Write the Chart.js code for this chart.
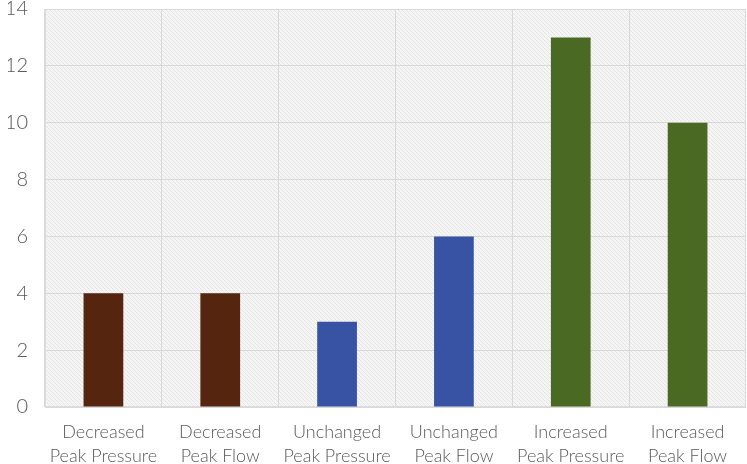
<!DOCTYPE html>
<html>
<head>
<meta charset="utf-8">
<script src="https://cdn.jsdelivr.net/npm/chart.js@4/dist/chart.umd.min.js"></script>
<style>
  html, body { margin: 0; padding: 0; background: #fff; }
  #wrap { width: 747px; height: 464px; }
</style>
</head>
<body>
<div id="wrap"><canvas id="chart"></canvas></div>
<script>
const categories = [
  ['Decreased', 'Peak Pressure'],
  ['Decreased', 'Peak Flow'],
  ['Unchanged', 'Peak Pressure'],
  ['Unchanged', 'Peak Flow'],
  ['Increased', 'Peak Pressure'],
  ['Increased', 'Peak Flow']
];
const counts = [4, 4, 3, 6, 13, 10];
const barColors = ['#56250f', '#56250f', '#3953a4', '#3953a4', '#4a6a23', '#4a6a23'];
const yTicks = [0, 2, 4, 6, 8, 10, 12, 14];

// hatched background for the plot area
function makeHatch(ctx) {
  const c = document.createElement('canvas');
  c.width = 4; c.height = 4;
  const p = c.getContext('2d');
  p.fillStyle = '#f5f5f5';
  p.fillRect(0, 0, 4, 4);
  p.strokeStyle = '#e4e4e4';
  p.lineWidth = 1;
  p.beginPath();
  p.moveTo(0, 0); p.lineTo(4, 4);
  p.moveTo(-1, 3); p.lineTo(1, 5);
  p.moveTo(3, -1); p.lineTo(5, 1);
  p.stroke();
  return ctx.createPattern(c, 'repeat');
}

const hatchBg = {
  id: 'hatchBg',
  beforeDraw(chart) {
    const { ctx, chartArea: a } = chart;
    ctx.save();
    ctx.fillStyle = makeHatch(ctx);
    ctx.fillRect(a.left, a.top, a.right - a.left, a.bottom - a.top);
    ctx.strokeStyle = '#dcdcdc';
    ctx.lineWidth = 1;
    ctx.strokeRect(a.left + 0.5, a.top + 0.5, a.right - a.left - 1, a.bottom - a.top - 1);
    ctx.restore();
  }
};

new Chart(document.getElementById('chart'), {
  type: 'bar',
  data: {
    labels: categories,
    datasets: [{
      data: counts,
      backgroundColor: barColors,
      borderWidth: 0,
      barPercentage: 0.34,
      categoryPercentage: 1
    }]
  },
  options: {
    responsive: true,
    maintainAspectRatio: false,
    animation: false,
    layout: { padding: { top: 9, right: 1, left: 8, bottom: 0 } },
    plugins: {
      legend: { display: false },
      tooltip: { enabled: false }
    },
    scales: {
      x: {
        offset: true,
        grid: { color: '#d9d9d9', offset: true, drawTicks: false },
        border: { display: false },
        ticks: {
          color: '#595959',
          font: { family: 'Lato', size: 18, weight: '300', lineHeight: 1.33 },
          maxRotation: 0,
          autoSkip: false,
          padding: 13
        },
        afterFit(scale) {
          scale.height = 57;
          scale.paddingLeft = 0;
          scale.paddingRight = 0;
        }
      },
      y: {
        min: 0,
        max: 14,
        afterBuildTicks(axis) { axis.ticks = yTicks.map(v => ({ value: v })); },
        grid: { color: '#d9d9d9', drawTicks: false },
        border: { display: false },
        ticks: {
          color: '#595959',
          font: { family: 'Lato', size: 20, weight: '300' },
          padding: 17
        },
        afterFit(scale) {
          scale.width = 37;
          scale.paddingTop = 0;
          scale.paddingBottom = 0;
        }
      }
    }
  },
  plugins: [hatchBg]
});
</script>
</body>
</html>
